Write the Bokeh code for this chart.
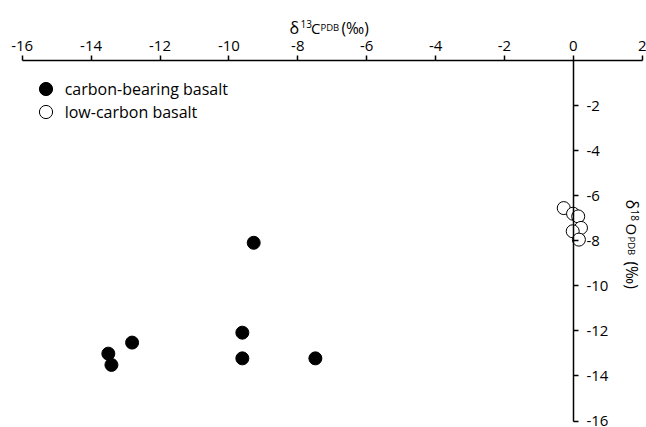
import math
from bokeh.plotting import figure
from bokeh.models import (LinearAxis, FixedTicker, Label, Legend, LegendItem,
                          Range1d, ColumnDataSource)
from bokeh.embed import file_html
from bokeh.resources import INLINE

# ---- data ----
carbon_d13C = [-13.50, -13.41, -12.81, -9.61, -9.61, -7.49, -9.28]
carbon_d18O = [-13.01, -13.51, -12.52, -12.08, -13.22, -13.22, -8.09]
lowc_d13C = [-0.28, -0.01, 0.14, 0.22, -0.02, 0.16]
lowc_d18O = [-6.55, -6.80, -6.92, -7.43, -7.58, -7.95]
x_ticks = [-16, -14, -12, -10, -8, -6, -4, -2, 0, 2]
y_ticks = [-2, -4, -6, -8, -10, -12, -14, -16]
series_labels = ["carbon-bearing basalt", "low-carbon basalt"]

FONT = "Open Sans"

# ---- layout geometry (page pixels) ----
W, H = 646, 427
OX, OY = -1, -1                  # observed canvas origin in the photo
X_LEFT_PX, X_RIGHT_PX = 20.7, 640.8   # pixel of x=-16 and x=2
Y_TOP_PX, Y_BOT_PX = 59.0, 419.5      # pixel of y=0 and y=-16
SX = (X_RIGHT_PX - X_LEFT_PX) / 18.0
SY = (Y_BOT_PX - Y_TOP_PX) / 16.0


def dx(px):  # page x -> data x
    return -16 + (px - X_LEFT_PX) / SX


def dy(py):  # page y -> data y
    return -(py - Y_TOP_PX) / SY


p = figure(width=W, height=H, output_backend="svg", toolbar_location=None,
           x_range=Range1d(dx(OX), dx(OX + W)),
           y_range=Range1d(dy(OY + H), dy(OY)),
           x_axis_location=None, y_axis_location=None,
           min_border_left=0, min_border_right=0, min_border_top=0,
           min_border_bottom=0)
p.outline_line_color = None
p.xgrid.visible = False
p.ygrid.visible = False
p.background_fill_color = "white"
p.border_fill_color = "white"


def style_axis(ax, standoff):
    ax.major_tick_out = 5
    ax.major_tick_in = 0
    ax.minor_tick_out = 0
    ax.minor_tick_in = 0
    ax.axis_line_width = 1.5
    ax.axis_line_color = "black"
    ax.major_tick_line_color = "black"
    ax.major_tick_line_width = 1.5
    ax.major_label_text_font = FONT
    ax.major_label_text_font_size = "15px"
    ax.major_label_text_color = "black"
    ax.major_label_standoff = standoff


xa = LinearAxis(fixed_location=0, ticker=FixedTicker(ticks=x_ticks),
                bounds=(x_ticks[0], x_ticks[-1]),
                major_label_overrides={t: str(t) for t in x_ticks})
style_axis(xa, 5)
p.add_layout(xa, "above")

ya = LinearAxis(fixed_location=0, ticker=FixedTicker(ticks=y_ticks),
                bounds=(y_ticks[-1], 0),
                major_label_overrides={t: str(t) for t in y_ticks})
style_axis(ya, 8)
p.add_layout(ya, "right")

src_c = ColumnDataSource(dict(x=carbon_d13C, y=carbon_d18O))
src_l = ColumnDataSource(dict(x=lowc_d13C, y=lowc_d18O))
r_c = p.scatter("x", "y", source=src_c, size=13, fill_color="black",
                line_color="black", line_width=1)
r_l = p.scatter("x", "y", source=src_l, size=13, fill_color="white",
                line_color="black", line_width=1)


def make_legend(label, renderer, center_px):
    cx, cy = center_px
    gx0 = cx - 16.5 - OX - 1.5
    gy1 = cy + 16.5 - OY
    leg = Legend(items=[LegendItem(label=label, renderers=[renderer])],
                 location=(gx0, H - gy1), padding=0, margin=0, spacing=0,
                 glyph_width=33, glyph_height=33, label_standoff=3,
                 label_text_font=FONT, label_text_font_size="16px",
                 label_text_color="black", border_line_color=None,
                 background_fill_alpha=0)
    p.add_layout(leg)


make_legend(series_labels[0], r_c, (45.7, 87.7))
make_legend(series_labels[1], r_l, (45.7, 110.7))


def lab(x, y, text, size, angle=0.0):
    p.add_layout(Label(x=x, y=y, text=text, text_font=FONT,
                       text_font_size=size, text_color="black",
                       text_align="left", text_baseline="alphabetic",
                       angle=angle))

# top title: δ13 CPDB (‰)
by = dy(26)
lab(dx(288), by, "δ", "16px")
lab(dx(299), dy(22.5), "13", "10px")
lab(dx(309.5), by, "C", "15px")
lab(dx(319), by, "PDB", "9.5px")
lab(dx(340), by, "(‰)", "15.5px")

# right title: δ18 OPDB (‰), rotated
a = -math.pi / 2
bx = dx(630)
lab(bx, dy(198), "δ", "16px", a)
lab(dx(633.5), dy(208), "18", "10px", a)
lab(bx, dy(222), "O", "15px", a)
lab(bx, dy(235), "PDB", "9.5px", a)
lab(bx, dy(260), "(‰)", "15.5px", a)

open("out.html", "w").write(file_html(p, INLINE))
